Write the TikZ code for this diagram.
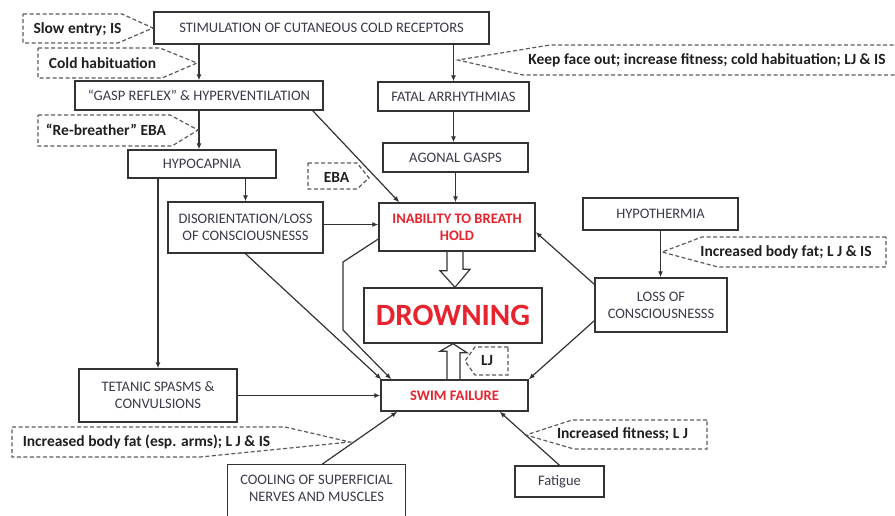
\documentclass[tikz,border=0pt]{standalone}
\usepackage{fontspec}
\setmainfont{Carlito}
\usetikzlibrary{arrows.meta,calc}
\definecolor{boxtxt}{HTML}{3A3A4A}
\definecolor{redtxt}{HTML}{E8232D}
\definecolor{edge}{HTML}{333333}
\definecolor{dashc}{HTML}{5A5A5A}
\begin{document}
\begin{tikzpicture}[x=1pt,y=-1pt,
  box/.style={draw=edge,line width=1.4pt,fill=white,inner sep=0pt,align=center,text=boxtxt,font=\fontsize{14.5}{17}\selectfont},
  redbox/.style={box,text=redtxt,font=\fontsize{14.5}{17}\selectfont\bfseries},
  arr/.style={draw=edge,line width=1.2pt,-{Latex[length=6pt,width=5pt]}},
  callout/.style={draw=dashc,line width=1.2pt,dash pattern=on 4pt off 2.5pt},
  ctext/.style={font=\fontsize{15.5}{17}\selectfont\bfseries,text=black!88,inner sep=0pt},
  blockarr/.style={draw=edge,line width=1.2pt,line join=miter}]
\useasboundingbox (0,0) rectangle (895,515);

% boxes
\node[box,minimum width=335pt,minimum height=32pt] (stim) at (321.5,28) {STIMULATION OF CUTANEOUS COLD RECEPTORS};
\node[box,minimum width=248pt,minimum height=29pt] (gasp) at (199,95.5) {“GASP REFLEX” \& HYPERVENTILATION};
\node[box,minimum width=151pt,minimum height=29pt] (fatal) at (453.5,96.5) {FATAL ARRHYTHMIAS};
\node[box,minimum width=148pt,minimum height=28pt] (hypocap) at (202,164) {HYPOCAPNIA};
\node[box,minimum width=145pt,minimum height=29pt] (agonal) at (455.5,157.5) {AGONAL GASPS};
\node[box,minimum width=155pt,minimum height=51pt] (disor) at (245.5,227.5) {DISORIENTATION/LOSS\\OF CONSCIOUSNESSS};
\node[redbox,minimum width=156pt,minimum height=48pt] (inab) at (457,227) {INABILITY TO BREATH\\HOLD};
\node[box,minimum width=155pt,minimum height=32pt] (hypoth) at (660.5,214) {HYPOTHERMIA};
\node[box,minimum width=132pt,minimum height=54pt] (loss) at (661,305) {LOSS OF\\CONSCIOUSNESSS};
\node[box,text=redtxt,font=\fontsize{31}{33}\selectfont\bfseries,minimum width=178pt,minimum height=55pt] (drown) at (453,315.5) {DROWNING};
\node[redbox,minimum width=147pt,minimum height=31pt] (swim) at (454.5,395.5) {SWIM FAILURE};
\node[box,minimum width=158pt,minimum height=53pt] (tetanic) at (158,395.5) {TETANIC SPASMS \&\\CONVULSIONS};
\node[box,draw=none,fill=none,minimum width=177pt,minimum height=46pt] (cooling) at (316.5,488) {COOLING OF SUPERFICIAL\\NERVES AND MUSCLES};
\draw[draw=edge,line width=1.4pt] ([yshift=-20pt]cooling.south west) -- (cooling.north west) -- (cooling.north east) -- ([yshift=-20pt]cooling.south east);
\node[box,minimum width=89pt,minimum height=31pt] (fatigue) at (559.5,481.5) {Fatigue};

% connectors
\draw[arr] (gasp.north |- stim.south) -- (gasp.north);
\draw[arr] (fatal.north |- stim.south) -- (fatal.north);
\draw[arr] (gasp.south) -- (gasp.south |- hypocap.north);
\draw[arr] (fatal.south) -- (fatal.south |- agonal.north);
\draw[arr] (agonal.south) -- (agonal.south |- inab.north);
\draw[arr] (disor.north |- hypocap.south) -- (disor.north);
\draw[arr] (tetanic.north |- hypocap.south) -- (tetanic.north);
\draw[arr] ([yshift=3pt]disor.east) -- ([yshift=3pt]disor.east -| inab.west);
\draw[arr] (tetanic.east) -- (tetanic.east -| swim.west);
\draw[arr] ([xshift=-11pt]gasp.south east) -- ([xshift=21pt]inab.north west);
\draw[arr] (disor.south) -- ([xshift=1pt]swim.north west);
\draw[arr] ([yshift=-12pt]inab.west) -- (343,262) -- (343,330) -- ([xshift=11pt]swim.north west);
\draw[arr] ([yshift=-7pt]loss.north west) -- ([yshift=-5pt]inab.east);
\draw[arr] ([yshift=12pt]loss.south west) -- (swim.north east);
\draw[arr] (hypoth.south) -- (hypoth.south |- loss.north);
\draw[arr] ([xshift=5.5pt]cooling.north) -- ([xshift=17pt]swim.south west);
\draw[arr] (fatigue.north) -- ([xshift=-29pt]swim.south east);

% block arrows
\draw[blockarr] ($(inab.south)+(-10,0)$) -- ++(0,19) -- ++(-7,0) -- ($(drown.north)+(2,0)$) -- ++(15,-18) -- ++(-7,0) -- ($(inab.south)+(6,0)$);
\draw[blockarr] ($(swim.north)+(-7.5,0)$) -- ++(0,-28) -- ++(-7,0) -- (drown.south) -- ++(14,9) -- ++(-7,0) -- ($(swim.north)+(5.5,0)$);

% callouts
\draw[callout] (23,14) -- (122,14) -- (153,28) -- (118,43) -- (23,43) -- cycle;
\node[ctext] (slow) at (77.5,29) {Slow entry; IS};
\draw[callout] (38,48) -- (160,48) -- (197,63) -- (162,78) -- (38,78) -- cycle;
\node[ctext] (coldh) at (102.5,63) {Cold habituation};
\draw[callout] (38,115) -- (170,115) -- (198,130) -- (172,146) -- (38,146) -- cycle;
\node[ctext] (rebr) at (106,130) {“Re-breather” EBA};
\draw[callout] (900,45) -- (550,45) -- (458,60) -- (523,75) -- (900,75);
\node[ctext] (keep) at (707,60) {Keep face out; increase fitness; cold habituation; LJ \& IS};
\draw[callout] (308,163) -- (357,163) -- (369,178) -- (357,189) -- (308,189) -- cycle;
\node[ctext] (eba) at (336.5,177) {EBA};
\draw[callout] (886,237) -- (702,237) -- (662,252) -- (718,267) -- (886,267) -- cycle;
\node[ctext] (fatr) at (786,252) {Increased body fat; L J \& IS};
\draw[callout] (12,427) -- (285,427) -- (350,442) -- (200,457) -- (12,457) -- cycle;
\node[ctext] (fatl) at (146.5,442) {Increased body fat (esp. arms); L J \& IS};
\draw[callout] (707,420) -- (572,420) -- (526,435) -- (574,449) -- (707,449) -- cycle;
\node[ctext] (fit) at (622.5,434) {Increased fitness; L J};
\draw[callout] (508,347) -- (475,347) -- (465,361) -- (475,375) -- (508,375) -- cycle;
\node[ctext] (lj) at (487,361) {LJ};
\end{tikzpicture}
\end{document}
